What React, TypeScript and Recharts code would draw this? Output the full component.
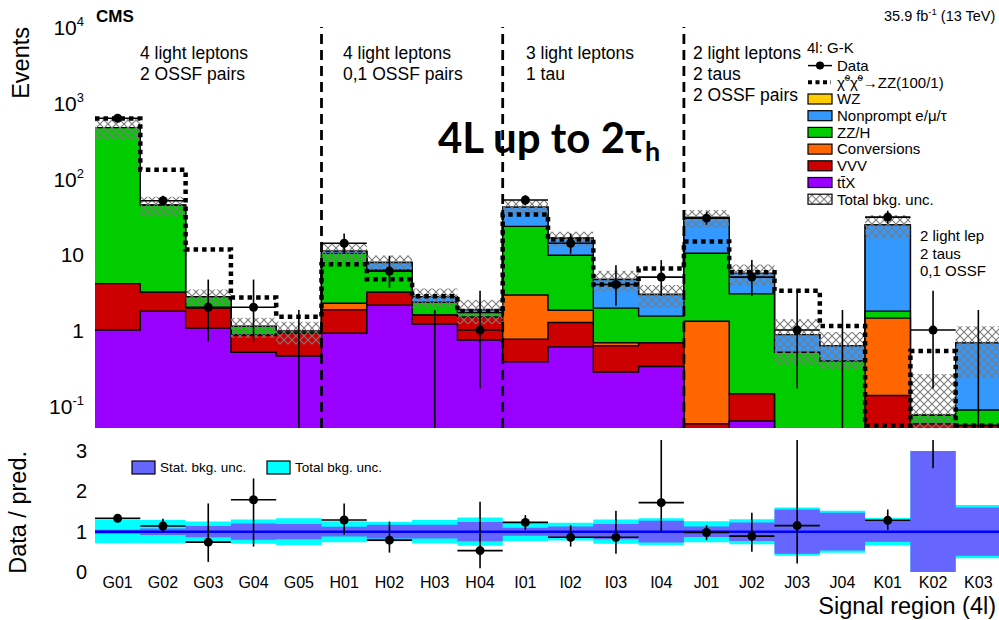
import React from 'react';
import {
  ComposedChart,
  Area,
  Line,
  Scatter,
  ErrorBar,
  XAxis,
  YAxis,
  ReferenceLine,
  Legend,
} from 'recharts';

const FONT = '"Liberation Sans", Arial, Helvetica, sans-serif';

// Signal regions along the x axis
const BINS = ['G01', 'G02', 'G03', 'G04', 'G05', 'H01', 'H02', 'H03', 'H04', 'I01', 'I02', 'I03', 'I04', 'J01', 'J02', 'J03', 'J04', 'K01', 'K02', 'K03'];

// Expected background per region (events), bottom of the stack first
const TTX = [1.0, 1.78, 1.06, 0.51, 0.455, 0.91, 2.13, 1.2, 0.74, 0.38, 0.6, 0.28, 0.33, 0, 0.063, 0, 0, 0, 0, 0];
const VVV = [3.1, 1.38, 0.89, 0.35, 0.455, 0.94, 1.03, 0.38, 0.74, 0.38, 0.66, 0.34, 0.35, 0.058, 0.081, 0, 0, 0.137, 0.058, 0.055];
const CONVERSIONS = [0, 0, 0, 0, 0, 0.41, 0, 0, 0, 2.14, 0.57, 0.06, 0, 1.25, 0, 0, 0, 1.3, 0, 0];
const ZZH = [466, 41.3, 0.8, 0.26, 0.06, 8.04, 3.04, 0.75, 0.22, 20.5, 7.87, 1.27, 0.85, 9.0, 2.86, 0.51, 0.39, 0.34, 0.017, 0.033];
const NONPROMPT = [0, 0, 0, 0, 0, 0.7, 1.6, 0.42, 0.15, 18.6, 6.6, 2.7, 1.42, 20.3, 2.6, 0.36, 0.23, 22.7, 0, 0.59];
const WZ = [0, 0, 0, 0, 0, 0, 0, 0, 0, 0, 0, 0, 0, 0, 0, 0, 0, 0, 0, 0];

// Relative background uncertainty: total and statistical only
const TOTAL_UNC = [0.29, 0.29, 0.25, 0.3, 0.33, 0.26, 0.24, 0.29, 0.35, 0.23, 0.22, 0.3, 0.33, 0.26, 0.31, 0.6, 0.52, 0.34, 2.5, 0.66];
const STAT_UNC = [0.05, 0.08, 0.14, 0.2, 0.19, 0.12, 0.17, 0.17, 0.24, 0.1, 0.13, 0.19, 0.27, 0.13, 0.23, 0.55, 0.47, 0.25, 2.4, 0.6];

// chi0 chi0 -> ZZ (100/1) signal
const SIGNAL = [620, 131, 11.6, 2.7, 1.5, 7.4, 4.7, 2.8, 1.78, 33.6, 15.7, 4.0, 6.5, 14.8, 5.8, 3.3, 1.13, 0.055, 0.53, 0.055];

// Observed counts with Poisson intervals
const DATA = [625, 51, 2, 2, 0, 14, 6, 0, 1, 52, 14, 4, 5, 30, 5, 1, 0, 31, 1, 0];
const DATA_LOW = [600, 44, 0.71, 0.71, 0, 10.2, 3.62, 0, 0.17, 44.9, 10.2, 2.09, 2.84, 24.5, 2.84, 0.17, 0, 25.5, 0.17, 0];
const DATA_HIGH = [650, 59.2, 4.64, 4.64, 1.84, 18.8, 9.58, 1.84, 3.3, 60.2, 18.8, 7.16, 8.38, 36.5, 8.38, 3.3, 1.84, 37.6, 3.3, 1.84];

// Data / prediction
const RATIO = [1.33, 1.14, 0.74, 1.79, null, 1.29, 0.79, null, 0.53, 1.23, 0.86, 0.86, 1.72, 0.98, 0.89, 1.15, null, 1.28, 13, null];
const RATIO_LOW = [1.28, 0.99, 0.25, 0.63, null, 0.93, 0.48, null, 0.09, 1.04, 0.63, 0.45, 0.98, 0.79, 0.5, 0.21, null, 1.04, 2.57, null];
const RATIO_HIGH = [1.38, 1.32, 1.7, 2.32, null, 1.7, 1.25, null, 1.74, 1.41, 1.16, 1.52, 3.6, 1.16, 1.47, 3.9, null, 1.55, 40, null];

const STACK = [
  { key: 'wz', label: 'WZ', color: '#ffcc00' },
  { key: 'nonprompt', label: 'Nonprompt e/\u03bc/\u03c4', color: '#3399ff' },
  { key: 'zzh', label: 'ZZ/H', color: '#00cc00' },
  { key: 'conv', label: 'Conversions', color: '#ff6600' },
  { key: 'vvv', label: 'VVV', color: '#cc0000' },
  { key: 'ttx', label: 't\u0074\u0304X', color: '#9900ff' },
];

const SEPARATORS = [5, 9, 13];
const CENTERS = BINS.map((_, i) => i + 0.5);

const Y_MIN = 0.051;
const Y_MAX = 10000;
const FLOOR = 1e-4; // keeps empty components positive on the log axis
const DECADES = [0.1, 1, 10, 100, 1000, 10000];
const LOG_MINOR = [0.01, ...DECADES]
  .flatMap((d) => [2, 3, 4, 5, 6, 7, 8, 9].map((m) => +(d * m).toPrecision(3)))
  .filter((v) => v > Y_MIN && v < Y_MAX);
const RATIO_TICKS = [0, 1, 2, 3];
const RATIO_MINOR = [0.2, 0.4, 0.6, 0.8, 1.2, 1.4, 1.6, 1.8, 2.2, 2.4, 2.6, 2.8];

// one row per bin edge; the last row repeats the final bin so the steps close at x = 20
const histRows = Array.from({ length: BINS.length + 1 }, (_, edge) => {
  const i = Math.min(edge, BINS.length - 1);
  const ttx = TTX[i];
  const vvv = ttx + VVV[i];
  const conv = vvv + CONVERSIONS[i];
  const zzh = conv + ZZH[i];
  const nonprompt = zzh + NONPROMPT[i];
  const wz = nonprompt + WZ[i];
  const pos = (v: number) => Math.max(v, FLOOR);
  return {
    x: edge,
    ttx: pos(ttx),
    vvv: pos(vvv),
    conv: pos(conv),
    zzh: pos(zzh),
    nonprompt: pos(nonprompt),
    wz: pos(wz),
    unc: [pos(wz * (1 - TOTAL_UNC[i])), wz * (1 + TOTAL_UNC[i])],
    sig: SIGNAL[i],
  };
});

const ratioRows = Array.from({ length: BINS.length + 1 }, (_, edge) => {
  const i = Math.min(edge, BINS.length - 1);
  return {
    x: edge,
    tot: [1 - TOTAL_UNC[i], 1 + TOTAL_UNC[i]],
    stat: [1 - STAT_UNC[i], 1 + STAT_UNC[i]],
  };
});

const dataPoints = BINS.map((_, i) => ({
  x: i + 0.5,
  y: DATA[i],
  ey: [DATA[i] - DATA_LOW[i], DATA_HIGH[i] - DATA[i]],
  ex: 0.5,
})).filter((p) => p.y > 0);

// empty bins only carry the upper Poisson limit
const emptyBins = BINS.map((_, i) => ({
  x: i + 0.5,
  y: Y_MIN,
  ey: [0, DATA_HIGH[i] - Y_MIN],
})).filter((_, i) => DATA[i] === 0);

const ratioPoints = BINS.map((_, i) =>
  RATIO[i] == null
    ? null
    : {
        x: i + 0.5,
        y: RATIO[i] as number,
        ey: [(RATIO[i] as number) - (RATIO_LOW[i] as number), (RATIO_HIGH[i] as number) - (RATIO[i] as number)],
        ex: 0.5,
      }
).filter(Boolean) as { x: number; y: number; ey: number[]; ex: number }[];

const AXIS = { stroke: '#000', strokeWidth: 1.5 };
const TICK = { stroke: '#000', strokeWidth: 1.2 };

const Dot = (p: any) => <circle cx={p.cx} cy={p.cy} r={4.5} fill="#000" />;
const NoDot = () => <g />;

const PowerTick = (props: any) => {
  const { x, y, payload } = props;
  const exp = Math.round(Math.log10(payload.value));
  return (
    <text x={x} y={y + 8} textAnchor="end" fontFamily={FONT} fontSize={21} fill="#000">
      {exp === 0 ? '1' : '10'}
      {exp !== 0 && exp !== 1 && (
        <tspan fontSize={13} dy={-9}>
          {exp}
        </tspan>
      )}
    </text>
  );
};

const Hatch = ({ id }: { id: string }) => (
  <pattern id={id} width={8} height={8} patternUnits="userSpaceOnUse">
    <path d="M0,0 L8,8 M8,0 L0,8" stroke="#7a7a7a" strokeWidth={1.1} />
  </pattern>
);

const ROW = 16.7;

const TopLegend = () => (
  <svg width={199} height={180} fontFamily={FONT}>
    <defs>
      <Hatch id="hatchKey" />
    </defs>
    <text x={7} y={17} fontSize={15}>
      4l: G-K
    </text>
    <g transform={`translate(0, ${29.6})`}>
      <line x1={8} x2={32} y1={0} y2={0} stroke="#000" strokeWidth={1.5} />
      <circle cx={20} cy={0} r={4} fill="#000" />
      <text x={37} y={5.3} fontSize={15}>
        Data
      </text>
    </g>
    <g transform={`translate(0, ${29.6 + ROW})`}>
      <line x1={8} x2={31} y1={0} y2={0} stroke="#000" strokeWidth={4} strokeDasharray="4 3.5" />
      <text x={37} y={5.3} fontSize={15}>
        {'\u03c7\u0303'}
        <tspan dy={-7} fontSize={9}>0</tspan>
        <tspan dy={7}>{'\u03c7\u0303'}</tspan>
        <tspan dy={-7} fontSize={9}>0</tspan>
        <tspan dy={7}>{'\u2192ZZ(100/1)'}</tspan>
      </text>
    </g>
    {STACK.map((s, k) => (
      <g key={s.key} transform={`translate(0, ${29.6 + (k + 2) * ROW})`}>
        <rect x={8} y={-5} width={24} height={10} fill={s.color} stroke="#000" strokeWidth={1.2} />
        <text x={37} y={5.3} fontSize={15}>
          {s.label}
        </text>
      </g>
    ))}
    <g transform={`translate(0, ${29.6 + 8 * ROW})`}>
      <rect x={8} y={-5} width={24} height={10} fill="url(#hatchKey)" stroke="#000" strokeWidth={1.2} />
      <text x={37} y={5.3} fontSize={15}>
        Total bkg. unc.
      </text>
    </g>
  </svg>
);

const RatioLegend = () => (
  <svg width={260} height={24} fontFamily={FONT}>
    <rect x={7} y={6} width={23} height={13} fill="#6666ff" stroke="#000" strokeWidth={1.2} />
    <text x={35} y={17} fontSize={13.5}>
      Stat. bkg. unc.
    </text>
    <rect x={142} y={6} width={23} height={13} fill="#00ffff" stroke="#000" strokeWidth={1.2} />
    <text x={170} y={17} fontSize={13.5}>
      Total bkg. unc.
    </text>
  </svg>
);

const logAxis = { scale: 'log' as const, domain: [Y_MIN, Y_MAX], allowDataOverflow: true, interval: 0 as const };
const ratioAxis = { domain: [0, 3], allowDataOverflow: true, interval: 0 as const, type: 'number' as const };
const binAxis = { dataKey: 'x', type: 'number' as const, domain: [0, 20], allowDataOverflow: true, ticks: CENTERS, interval: 0 as const };

const TopPanel = () => (
  <ComposedChart width={1010} height={430} data={histRows} margin={{ top: 27, right: 9, bottom: 2, left: 0 }}>
    <defs>
      <Hatch id="hatchBand" />
    </defs>
    <XAxis xAxisId="x" {...binAxis} mirror height={0} tick={false} tickSize={10} axisLine={AXIS} tickLine={TICK} />
    <XAxis xAxisId="top" orientation="top" {...binAxis} mirror height={0} tick={false} tickSize={10} axisLine={AXIS} tickLine={TICK} />
    <YAxis yAxisId="lMaj" {...logAxis} ticks={DECADES} mirror width={0} tick={false} tickSize={28} axisLine={AXIS} tickLine={TICK} />
    <YAxis yAxisId="lMin" {...logAxis} ticks={LOG_MINOR} mirror width={0} tick={false} tickSize={15} axisLine={false} tickLine={TICK} />
    <YAxis yAxisId="rMaj" orientation="right" {...logAxis} ticks={DECADES} mirror width={0} tick={false} tickSize={28} axisLine={AXIS} tickLine={TICK} />
    <YAxis yAxisId="rMin" orientation="right" {...logAxis} ticks={LOG_MINOR} mirror width={0} tick={false} tickSize={15} axisLine={false} tickLine={TICK} />
    <YAxis yAxisId="y" {...logAxis} ticks={DECADES} width={95} tickSize={0} tickMargin={11} tickLine={false} axisLine={false} tick={<PowerTick />} />

    {STACK.map((s) => (
      <Area
        key={s.key}
        xAxisId="x"
        yAxisId="y"
        type="stepAfter"
        dataKey={s.key}
        baseValue={FLOOR}
        fill={s.color}
        fillOpacity={1}
        stroke="#000"
        strokeWidth={1.4}
        dot={false}
        activeDot={false}
        isAnimationActive={false}
      />
    ))}
    <Area
      xAxisId="x"
      yAxisId="y"
      type="stepAfter"
      dataKey="unc"
      fill="url(#hatchBand)"
      fillOpacity={1}
      stroke="none"
      dot={false}
      activeDot={false}
      isAnimationActive={false}
    />
    <Line
      xAxisId="x"
      yAxisId="y"
      type="stepAfter"
      dataKey="sig"
      stroke="#000"
      strokeWidth={4.5}
      strokeDasharray="4.5 4"
      dot={false}
      activeDot={false}
      isAnimationActive={false}
    />
    {SEPARATORS.map((e) => (
      <ReferenceLine key={e} xAxisId="x" yAxisId="y" x={e} stroke="#000" strokeWidth={2.8} strokeDasharray="10 6" />
    ))}
    <Scatter xAxisId="x" yAxisId="y" data={emptyBins} dataKey="y" shape={NoDot} isAnimationActive={false}>
      <ErrorBar dataKey="ey" direction="y" width={0} stroke="#000" strokeWidth={1.6} />
    </Scatter>
    <Scatter xAxisId="x" yAxisId="y" data={dataPoints} dataKey="y" shape={Dot} isAnimationActive={false}>
      <ErrorBar dataKey="ey" direction="y" width={0} stroke="#000" strokeWidth={1.6} />
      <ErrorBar dataKey="ex" direction="x" width={0} stroke="#000" strokeWidth={1.6} />
    </Scatter>
    <Legend
      layout="vertical"
      align="center"
      verticalAlign="middle"
      content={() => <TopLegend />}
      wrapperStyle={{ left: 800, top: 36, width: 199, height: 180 }}
    />
  </ComposedChart>
);

const RatioPanel = () => (
  <ComposedChart width={1010} height={180} data={ratioRows} margin={{ top: 11, right: 9, bottom: 0, left: 0 }}>
    <XAxis xAxisId="xb" {...binAxis} mirror height={0} tick={false} tickSize={6} axisLine={AXIS} tickLine={TICK} />
    <XAxis xAxisId="top" orientation="top" {...binAxis} mirror height={0} tick={false} tickSize={6} axisLine={AXIS} tickLine={TICK} />
    <XAxis
      xAxisId="x"
      {...binAxis}
      height={48}
      tickSize={0}
      tickMargin={5}
      tickLine={false}
      axisLine={false}
      tickFormatter={(v: number) => BINS[Math.floor(v)]}
      tick={{ fontSize: 16, fill: '#000', fontFamily: FONT }}
    />
    <YAxis yAxisId="lMaj" {...ratioAxis} ticks={RATIO_TICKS} mirror width={0} tick={false} tickSize={19} axisLine={AXIS} tickLine={TICK} />
    <YAxis yAxisId="lMin" {...ratioAxis} ticks={RATIO_MINOR} mirror width={0} tick={false} tickSize={10} axisLine={false} tickLine={TICK} />
    <YAxis yAxisId="rMaj" orientation="right" {...ratioAxis} ticks={RATIO_TICKS} mirror width={0} tick={false} tickSize={19} axisLine={AXIS} tickLine={TICK} />
    <YAxis yAxisId="rMin" orientation="right" {...ratioAxis} ticks={RATIO_MINOR} mirror width={0} tick={false} tickSize={10} axisLine={false} tickLine={TICK} />
    <YAxis
      yAxisId="y"
      {...ratioAxis}
      ticks={RATIO_TICKS}
      width={95}
      tickSize={0}
      tickMargin={8}
      tickLine={false}
      axisLine={false}
      tick={{ fontSize: 20, fill: '#000', fontFamily: FONT }}
    />

    <Area xAxisId="x" yAxisId="y" type="stepAfter" dataKey="tot" fill="#00ffff" fillOpacity={1} stroke="none" dot={false} activeDot={false} isAnimationActive={false} />
    <Area xAxisId="x" yAxisId="y" type="stepAfter" dataKey="stat" fill="#6666ff" fillOpacity={1} stroke="none" dot={false} activeDot={false} isAnimationActive={false} />
    <ReferenceLine xAxisId="x" yAxisId="y" y={1} stroke="#0000ff" strokeWidth={2.5} />
    <Scatter xAxisId="x" yAxisId="y" data={ratioPoints} dataKey="y" shape={Dot} isAnimationActive={false}>
      <ErrorBar dataKey="ey" direction="y" width={0} stroke="#000" strokeWidth={1.6} />
      <ErrorBar dataKey="ex" direction="x" width={0} stroke="#000" strokeWidth={1.6} />
    </Scatter>
    <Legend
      layout="vertical"
      align="center"
      verticalAlign="middle"
      content={() => <RatioLegend />}
      wrapperStyle={{ left: 125, top: 15, width: 260, height: 24 }}
    />
  </ComposedChart>
);

const REGION_LABELS = [
  { x: 140, lines: ['4 light leptons', '2 OSSF pairs'] },
  { x: 343, lines: ['4 light leptons', '0,1 OSSF pairs'] },
  { x: 526, lines: ['3 light leptons', '1 tau'] },
  { x: 693, lines: ['2 light leptons', '2 taus', '2 OSSF pairs'] },
];

const Annotations = () => (
  <svg
    width={999}
    height={620}
    fontFamily={FONT}
    style={{ position: 'absolute', left: 0, top: 0, pointerEvents: 'none' }}
  >
    <text x={96} y={22} fontSize={17} fontWeight={700}>
      CMS
    </text>
    <text x={884} y={21} fontSize={14.5}>
      35.9 fb<tspan dy={-6} fontSize={9.5}>-1</tspan>
      <tspan dy={6}> (13 TeV)</tspan>
    </text>
    <text transform="translate(29,27) rotate(-90)" textAnchor="end" fontSize={23.5}>
      Events
    </text>
    <text transform="translate(26,451) rotate(-90)" textAnchor="end" fontSize={23.5}>
      Data / pred.
    </text>
    <text x={996} y={614} textAnchor="end" fontSize={23.5}>
      Signal region (4l)
    </text>
    {REGION_LABELS.map((r) =>
      r.lines.map((t, k) => (
        <text key={r.x + t} x={r.x} y={59 + k * 21} fontSize={17.5}>
          {t}
        </text>
      ))
    )}
    {['2 light lep', '2 taus', '0,1 OSSF'].map((t, k) => (
      <text key={t} x={920} y={241 + k * 17.5} fontSize={15}>
        {t}
      </text>
    ))}
    <text x={438} y={153} fontFamily="Lato, 'Open Sans', sans-serif" fontWeight={700} fontSize={42}>
      4L up to 2{'\u03c4'}
      <tspan fontSize={27} dy={8}>
        h
      </tspan>
    </text>
  </svg>
);

export default function App() {
  return (
    <div
      style={{
        position: 'fixed',
        left: 0,
        top: 0,
        width: 999,
        height: 620,
        overflow: 'hidden',
        background: '#fff',
        fontFamily: FONT,
      }}
    >
      <div style={{ position: 'absolute', left: 0, top: 0 }}>
        <TopPanel />
      </div>
      <div style={{ position: 'absolute', left: 0, top: 440 }}>
        <RatioPanel />
      </div>
      <Annotations />
    </div>
  );
}
